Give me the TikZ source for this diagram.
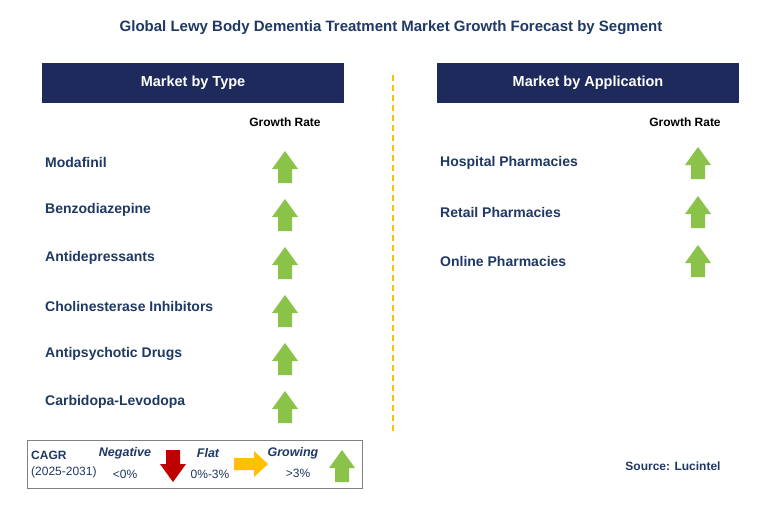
\documentclass[tikz,border=0pt]{standalone}
\usepackage{fontspec}
\setmainfont{Liberation Sans}
\usetikzlibrary{positioning}
\definecolor{navy}{HTML}{1F2A5C}
\definecolor{txt}{HTML}{1F3864}
\definecolor{grn}{HTML}{8BC34A}
\definecolor{rd}{HTML}{C00000}
\definecolor{amb}{HTML}{FFC000}
\tikzset{
  hdr/.style={fill=navy,text=white,font=\bfseries\fontsize{14.5}{16}\selectfont,minimum width=302pt,minimum height=40pt,inner sep=0pt},
  item/.style={anchor=west,text=txt,font=\bfseries\fontsize{14}{16}\selectfont,inner sep=0pt},
  small/.style={text=black,font=\bfseries\fontsize{12}{14}\selectfont,inner sep=0pt},
  leg/.style={text=txt,font=\fontsize{12}{14}\selectfont,inner sep=0pt},
  legi/.style={text=txt,font=\bfseries\itshape\fontsize{12.5}{14}\selectfont,inner sep=0pt},
  up/.pic={\fill[grn] (-7,16) -- (-7,2) -- (-13,2) -- (0,-16) -- (13,2) -- (7,2) -- (7,16) -- cycle;},
  down/.pic={\fill[rd] (-7,-16) -- (-7,-2) -- (-13,-2) -- (0,16) -- (13,-2) -- (7,-2) -- (7,-16) -- cycle;},
  right/.pic={\fill[amb] (-17,-6) -- (3,-6) -- (3,-13) -- (17,0) -- (3,13) -- (3,6) -- (-17,6) -- cycle;}
}
\begin{document}
\begin{tikzpicture}[x=1pt,y=-1pt]
  \useasboundingbox[fill=white] (0,0) rectangle (759,508);
  \node[text=txt,font=\bfseries\fontsize{15}{17}\selectfont] (title) at (391,28) {Global Lewy Body Dementia Treatment Market Growth Forecast by Segment};
  \node[hdr] (type) at (193,83) {Market by Type};
  \node[hdr] (app) at (588,83) {Market by Application};
  \draw[amb,line width=1.5pt,dash pattern=on 6pt off 4pt] (393,75) -- (393,435);
  \node[small] (gr1) at (285,122) {Growth Rate};
  \node[small] (gr2) at (685,122) {Growth Rate};
  % left column
  \foreach \t [count=\i] in {Modafinil,Benzodiazepine,Antidepressants,Cholinesterase Inhibitors,Antipsychotic Drugs,Carbidopa-Levodopa}{
    \node[item] (l\i) at (45,{114+48*\i}) {\t};
    \pic at (285,{119+48*\i}) {up};
  }
  % right column
  \foreach \t [count=\i] in {Hospital Pharmacies,Retail Pharmacies,Online Pharmacies}{
    \node[item] (r\i) at (440,{114+49*\i}) {\t};
    \pic at (698,{114+49*\i}) {up};
  }
  % legend
  \draw[gray,thick] (27,440) rectangle (362,488);
  \node[text=txt,font=\bfseries\fontsize{12}{14}\selectfont,anchor=west,inner sep=0pt] (cagr) at (31,455) {CAGR};
  \node[leg,anchor=west] (yrs) at (31,472) {(2025-2031)};
  \node[legi] (neg) at (125,453) {Negative};
  \node[leg] (negv) at (125,474) {<0\%};
  \pic at (173,466) {down};
  \node[legi] (flat) at (208,453) {Flat};
  \node[leg] (flatv) at (210,474) {0\%-3\%};
  \pic at (251,464) {right};
  \node[legi] (grow) at (293,453) {Growing};
  \node[leg] (growv) at (298,473) {>3\%};
  \pic at (342,466) {up};
  \node[text=txt,font=\bfseries\fontsize{12}{14}\selectfont] (src) at (673,466) {Source: Lucintel};
\end{tikzpicture}
\end{document}
